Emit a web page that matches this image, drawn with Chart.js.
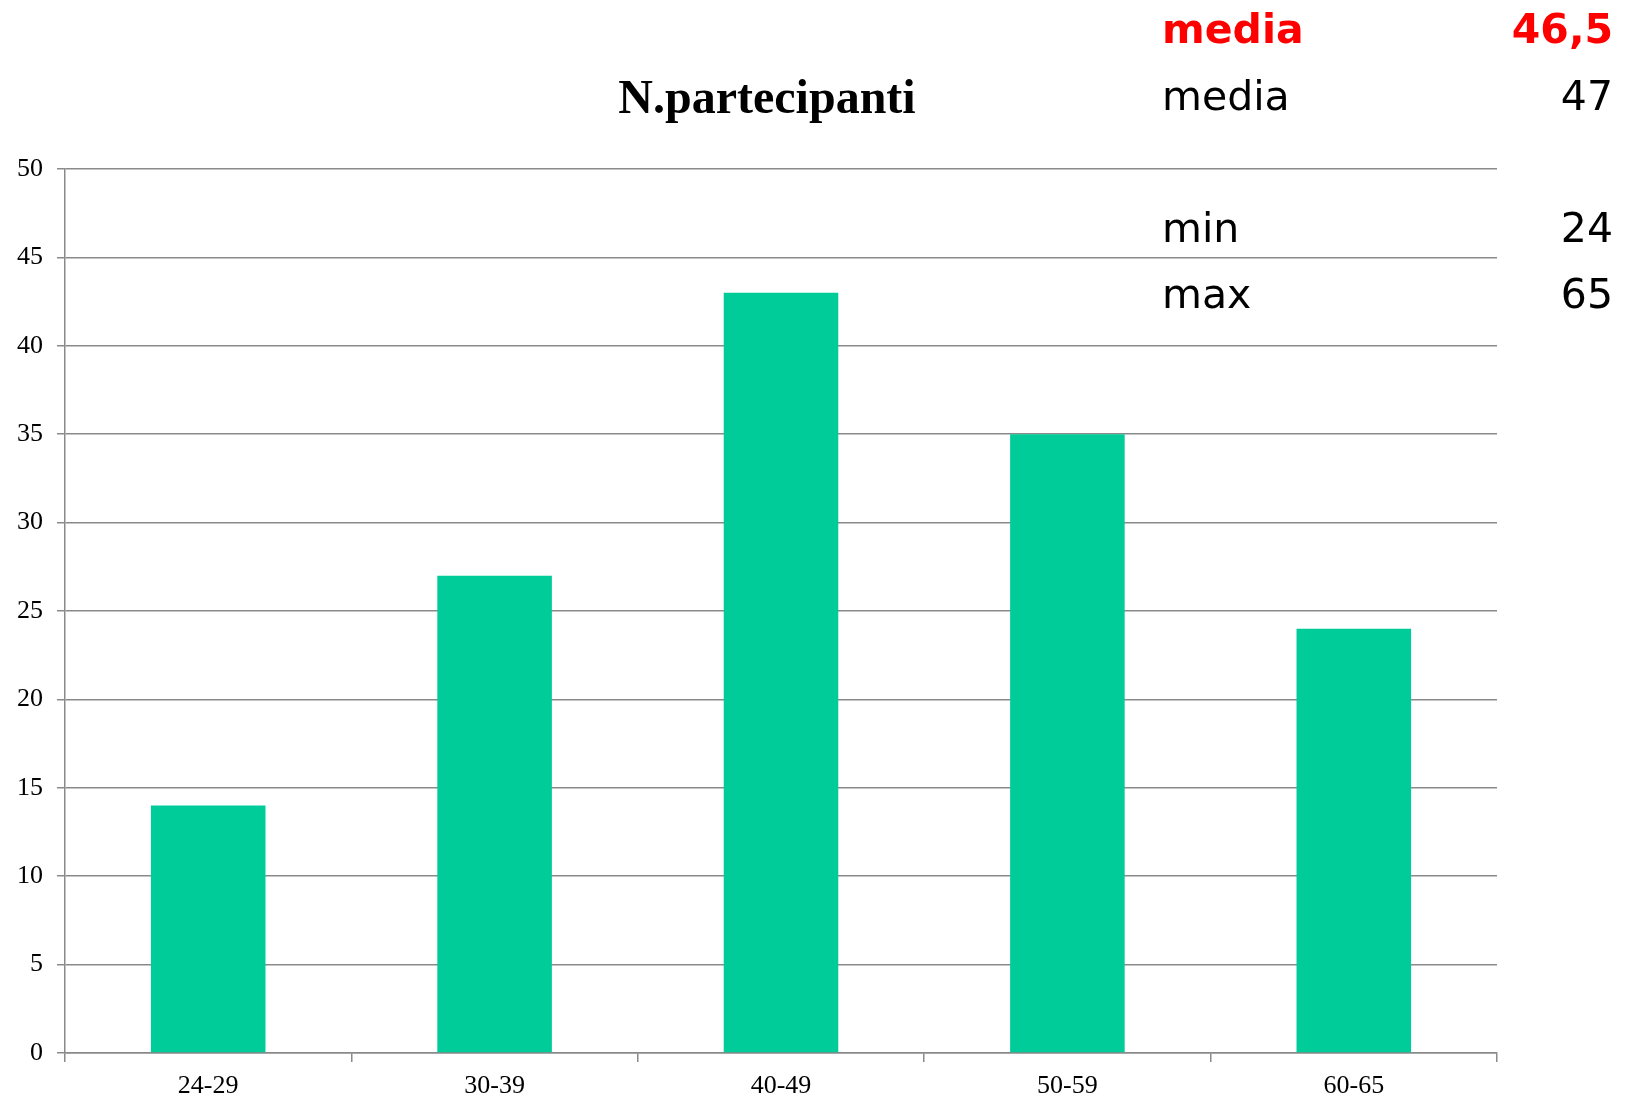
<!DOCTYPE html>
<html>
<head>
<meta charset="utf-8">
<script src="https://cdn.jsdelivr.net/npm/chart.js@4.4.0/dist/chart.umd.min.js"></script>
<style>
  html, body { margin: 0; padding: 0; background: #fff; }
  #wrap { width: 1627px; height: 1101px; }
</style>
</head>
<body>
<div id="wrap"><canvas id="partChart" width="1627" height="1101"></canvas></div>
<script>
// age groups and number of participants
const categories = ['24-29', '30-39', '40-49', '50-59', '60-65'];
const participants = [14, 27, 43, 35, 24];

// side notes (top right)
const statLabels = ['media', 'media', 'min', 'max'];
const statValues = ['46,5', '47', '24', '65'];
const statColors = ['#ff0000', '#000000', '#000000', '#000000'];
const statBold = [true, false, false, false];
const statBaselines = [43, 110, 242, 308];

const titleText = 'N.partecipanti';

// title + side notes drawn on top of the canvas
const notesPlugin = {
  id: 'notes',
  afterDraw(chart) {
    const c = chart.ctx;
    c.save();
    c.fillStyle = '#000';
    c.font = 'bold 48px "Liberation Serif", "Times New Roman", serif';
    c.textAlign = 'center';
    c.textBaseline = 'alphabetic';
    c.fillText(titleText, 767, 113);

    for (let i = 0; i < statLabels.length; i++) {
      c.fillStyle = statColors[i];
      c.font = (statBold[i] ? 'bold ' : '') + '41px "DejaVu Sans", sans-serif';
      c.textAlign = 'left';
      c.fillText(statLabels[i], 1162, statBaselines[i]);
      c.textAlign = 'right';
      c.fillText(statValues[i], 1613, statBaselines[i]);
    }
    c.restore();
  }
};

const ctx = document.getElementById('partChart').getContext('2d');
const partChart = new Chart(ctx, {
  type: 'bar',
  data: {
    labels: categories,
    datasets: [{
      label: 'N.partecipanti',
      data: participants,
      backgroundColor: '#00cc99',
      borderWidth: 0,
      barPercentage: 0.4,
      categoryPercentage: 1.0
    }]
  },
  options: {
    responsive: false,
    animation: false,
    layout: { padding: { top: 169, right: 130, left: 0, bottom: 0 } },
    plugins: {
      legend: { display: false },
      tooltip: { enabled: false }
    },
    scales: {
      x: {
        offset: true,
        grid: {
          offset: true,
          drawOnChartArea: false,
          drawTicks: true,
          tickLength: 9,
          color: '#8a8a8a',
          lineWidth: 1.5
        },
        border: { color: '#8a8a8a', width: 1.5 },
        ticks: {
          color: '#000',
          padding: 9,
          font: { family: '"Liberation Serif", "Times New Roman", serif', size: 26 }
        },
        afterFit(scale) { scale.height = 48; }
      },
      y: {
        min: 0,
        max: 50,
        ticks: {
          stepSize: 5,
          color: '#000',
          padding: 14,
          font: { family: '"Liberation Serif", "Times New Roman", serif', size: 26 }
        },
        grid: {
          color: '#8a8a8a',
          lineWidth: 1.5,
          tickLength: 8
        },
        border: { color: '#8a8a8a', width: 1.5 },
        afterFit(scale) { scale.width = 65; }
      }
    }
  },
  plugins: [notesPlugin]
});
</script>
</body>
</html>
